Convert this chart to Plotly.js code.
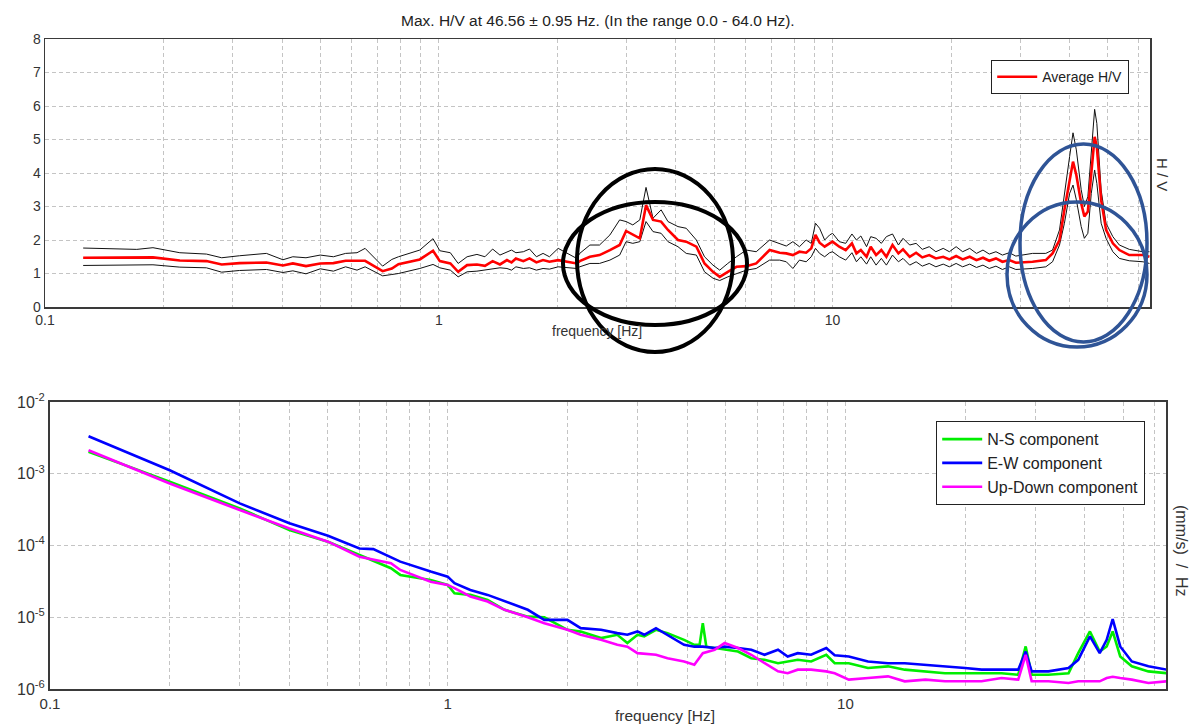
<!DOCTYPE html>
<html>
<head>
<meta charset="utf-8">
<script src="https://cdn.plot.ly/plotly-3.0.1.min.js"></script>
<style>html,body{margin:0;padding:0;background:#fff;}#chart{width:1200px;height:726px;}</style>
</head>
<body>
<div id="chart"></div>
<script>
// ---------- H/V data (top panel) ----------
const hvFreq = [0.125,0.171,0.188,0.22,0.257,0.281,0.312,0.365,0.402,0.426,0.46,0.5,0.54,0.58,0.62,0.65,0.72,0.76,0.79,0.895,0.967,1.006,1.07,1.12,1.18,1.25,1.31,1.37,1.43,1.49,1.53,1.57,1.64,1.70,1.77,1.84,1.91,2.01,2.24,2.28,2.42,2.56,2.72,2.88,2.99,3.11,3.24,3.36,3.50,3.67,3.82,4.05,4.25,4.51,4.73,4.97,5.17,5.42,5.70,6.04,6.40,6.92,7.34,7.63,7.93,8.24,8.57,8.83,9.05,9.27,9.55,9.83,10.0,10.4,10.8,11.2,11.5,11.8,12.2,12.5,12.9,13.3,13.7,14.2,14.7,15.1,15.7,16.3,16.9,17.6,18.3,19.1,19.8,20.6,21.4,22.3,23.2,24.1,25.0,26.0,27.0,28.1,29.2,32.2,34.8,36.2,37.7,38.8,40.0,40.8,41.6,42.8,43.6,44.5,45.4,46.3,46.9,48.1,49.5,51.5,53.5,56.7,61.4,63.8];
const hvAvg = [1.47,1.47,1.48,1.39,1.37,1.27,1.31,1.33,1.24,1.30,1.22,1.30,1.31,1.38,1.39,1.38,1.07,1.15,1.28,1.42,1.68,1.37,1.30,1.05,1.25,1.27,1.23,1.37,1.27,1.40,1.33,1.45,1.37,1.45,1.33,1.40,1.35,1.40,1.30,1.37,1.50,1.55,1.70,1.85,2.27,2.15,2.05,3.04,2.60,2.55,2.30,2.00,1.95,1.80,1.30,1.05,0.90,1.05,1.20,1.22,1.30,1.70,1.62,1.60,1.55,1.65,1.62,1.75,2.15,1.92,1.80,1.90,1.95,1.80,1.70,1.90,1.60,1.70,1.50,1.80,1.55,1.70,1.50,1.85,1.60,1.72,1.50,1.62,1.48,1.55,1.45,1.50,1.42,1.52,1.42,1.50,1.40,1.47,1.38,1.45,1.35,1.40,1.32,1.35,1.40,1.60,2.00,2.90,3.79,4.34,3.94,3.10,2.70,2.85,3.99,5.08,4.78,3.19,2.30,1.90,1.70,1.55,1.55,1.50];
const hvUpper = [1.76,1.72,1.77,1.62,1.58,1.47,1.53,1.60,1.41,1.50,1.47,1.55,1.50,1.60,1.62,1.75,1.22,1.42,1.50,1.70,2.04,1.68,1.62,1.30,1.50,1.57,1.50,1.73,1.55,1.65,1.70,1.62,1.65,1.73,1.50,1.60,1.50,1.75,1.45,1.60,1.85,1.85,2.15,2.60,2.55,2.45,2.60,3.57,2.65,2.90,2.55,2.40,2.35,2.00,1.50,1.25,1.10,1.30,1.50,1.70,1.65,2.00,1.90,1.82,1.95,1.80,2.00,1.90,2.50,2.35,2.00,2.15,2.20,1.95,1.90,2.18,2.00,2.12,1.80,2.10,2.05,1.90,2.10,2.18,1.85,2.05,1.85,1.90,1.72,1.80,1.65,1.75,1.65,1.80,1.65,1.75,1.60,1.70,1.58,1.65,1.55,1.62,1.52,1.60,1.60,1.70,2.30,3.29,4.49,5.20,4.69,3.50,3.00,3.29,4.49,5.90,5.48,3.49,2.50,2.10,1.85,1.72,1.65,1.65];
const hvLower = [1.24,1.25,1.26,1.19,1.17,1.04,1.09,1.12,1.03,1.08,0.99,1.14,1.07,1.20,1.10,1.20,0.93,0.97,1.00,1.15,1.27,1.17,1.10,0.90,1.05,1.07,1.10,1.13,1.17,1.15,1.10,1.20,1.15,1.17,1.10,1.15,1.13,1.20,1.15,1.20,1.30,1.30,1.40,1.55,1.95,1.90,1.95,2.55,2.25,2.20,1.95,1.80,1.60,1.55,1.05,0.86,0.79,0.90,1.00,1.10,1.15,1.40,1.40,1.35,1.15,1.40,1.35,1.50,1.75,1.60,1.50,1.62,1.65,1.50,1.40,1.62,1.35,1.50,1.28,1.50,1.25,1.45,1.25,1.55,1.35,1.45,1.25,1.35,1.22,1.30,1.20,1.28,1.20,1.30,1.20,1.28,1.18,1.25,1.15,1.22,1.12,1.20,1.12,1.15,1.20,1.35,1.85,2.50,3.39,3.64,3.20,2.40,2.05,2.20,3.39,4.09,3.69,2.50,2.05,1.65,1.45,1.38,1.35,1.30];

// ---------- spectra (bottom panel) ----------
const ewFreq = [0.125,0.2,0.3,0.4,0.5,0.6,0.65,0.76,0.906,1.0,1.04,1.14,1.26,1.39,1.59,1.75,2.0,2.16,2.43,2.67,2.83,3.0,3.12,3.34,3.57,3.93,4.17,4.38,4.69,4.97,5.37,5.80,6.26,6.77,7.16,7.59,8.2,8.95,9.4,10.2,11.4,12.8,14.1,15.9,17.8,20.0,22.0,24.7,27.2,28.4,29.4,32.4,36.4,38.5,41.2,43.6,45.4,47.0,49.1,52.5,57.8,64.3];
const ewVal = [3.33e-3,1.12e-3,3.86e-4,2.04e-4,1.37e-4,9.1e-5,8.9e-5,5.96e-5,4.33e-5,3.68e-5,2.98e-5,2.40e-5,2.05e-5,1.66e-5,1.27e-5,9.2e-6,9.2e-6,7.05e-6,6.68e-6,6.01e-6,5.7e-6,6.34e-6,5.7e-6,7.05e-6,5.7e-6,4.13e-6,3.89e-6,3.89e-6,3.72e-6,3.89e-6,3.72e-6,3.52e-6,3.0e-6,3.52e-6,2.84e-6,3.16e-6,3.0e-6,3.72e-6,2.95e-6,2.84e-6,2.42e-6,2.29e-6,2.29e-6,2.18e-6,2.07e-6,1.96e-6,1.86e-6,1.86e-6,1.86e-6,3.33e-6,1.76e-6,1.76e-6,1.96e-6,2.55e-6,5.4e-6,3.16e-6,4.84e-6,9.4e-6,3.92e-6,2.42e-6,2.07e-6,1.86e-6];
const nsFreq = [0.125,0.2,0.3,0.4,0.5,0.6,0.72,0.76,0.906,1.0,1.04,1.14,1.26,1.39,1.59,1.75,2.0,2.16,2.43,2.67,2.83,3.0,3.12,3.34,3.57,3.93,4.17,4.30,4.38,4.47,4.69,4.97,5.37,5.80,6.26,6.77,7.16,7.59,8.2,8.95,9.4,10.2,11.4,12.8,14.1,15.9,17.8,20.0,22.0,24.7,27.2,28.4,29.4,32.4,36.4,38.5,41.2,43.6,45.4,47.0,49.1,52.5,57.8,64.3];
const nsVal = [2.02e-3,7.76e-4,3.29e-4,1.64e-4,1.13e-4,7.36e-5,4.82e-5,3.89e-5,3.31e-5,2.82e-5,2.16e-5,2.05e-5,1.74e-5,1.27e-5,1.02e-5,1.0e-5,6.68e-6,6.31e-6,5.13e-6,5.69e-6,4.37e-6,5.69e-6,5.4e-6,6.68e-6,6.01e-6,4.84e-6,4.13e-6,4.13e-6,8.26e-6,3.89e-6,3.72e-6,3.52e-6,3.33e-6,2.69e-6,2.55e-6,2.29e-6,2.42e-6,2.55e-6,2.42e-6,3.0e-6,2.29e-6,2.29e-6,1.96e-6,2.07e-6,1.86e-6,1.76e-6,1.66e-6,1.66e-6,1.66e-6,1.66e-6,1.58e-6,3.92e-6,1.58e-6,1.58e-6,1.66e-6,3.16e-6,6.34e-6,3.33e-6,3.92e-6,6.34e-6,2.84e-6,2.07e-6,1.76e-6,1.66e-6];
const udFreq = [0.125,0.2,0.3,0.4,0.5,0.6,0.72,0.76,0.906,1.0,1.04,1.14,1.26,1.39,1.59,1.75,2.0,2.16,2.43,2.67,2.83,3.0,3.34,3.57,3.93,4.17,4.38,4.69,4.97,5.37,5.80,6.26,6.77,7.16,7.59,8.2,8.95,9.4,10.2,11.4,12.8,14.1,15.9,17.8,20.0,22.0,24.7,27.2,28.4,29.4,32.4,36.4,38.5,41.2,43.6,45.4,47.0,49.1,52.5,57.8,64.3];
const udVal = [2.13e-3,7.33e-4,3.12e-4,1.73e-4,1.13e-4,6.98e-5,5.65e-5,4.56e-5,3.13e-5,2.82e-5,2.54e-5,1.95e-5,1.66e-5,1.27e-5,1.0e-5,8.26e-6,6.68e-6,5.69e-6,4.84e-6,4.13e-6,3.89e-6,3.16e-6,3.0e-6,2.69e-6,2.42e-6,2.18e-6,3.16e-6,3.52e-6,4.37e-6,3.72e-6,3.0e-6,2.29e-6,1.76e-6,1.66e-6,1.86e-6,1.86e-6,1.76e-6,1.66e-6,1.35e-6,1.42e-6,1.5e-6,1.28e-6,1.35e-6,1.28e-6,1.28e-6,1.28e-6,1.42e-6,1.35e-6,3.0e-6,1.28e-6,1.28e-6,1.21e-6,1.28e-6,1.28e-6,1.28e-6,1.42e-6,1.48e-6,1.42e-6,1.35e-6,1.21e-6,1.28e-6];

// ---------- tick labels ----------
const freqGridVals = [0.1,0.2,0.3,0.4,0.5,0.6,0.7,0.8,0.9,1,2,3,4,5,6,7,8,9,10,20,30,40,50,60];
const freqGridText = ['0.1','','','','','','','','','1','','','','','','','','','10','','','','',''];
const hvTickVals = [0,1,2,3,4,5,6,7,8];
const specTickVals = [1e-6,1e-5,1e-4,1e-3,1e-2];
const specTickText = ['10<sup>-6</sup>','10<sup>-5</sup>','10<sup>-4</sup>','10<sup>-3</sup>','10<sup>-2</sup>'];

const titleText = 'Max. H/V at 46.56 ± 0.95 Hz. (In the range 0.0 - 64.0 Hz).';

const W = 1200, H = 726;
const px = x => x / W;
const py = y => 1 - y / H;

const FONT = 'Liberation Sans, Arial, sans-serif';
const gridCol = '#c4c4c4';
const axisCol = '#3a3a3a';

const traces = [
  {x: hvFreq, y: hvUpper, xaxis: 'x', yaxis: 'y', mode: 'lines', line: {color: '#111', width: 1}, showlegend: false, hoverinfo: 'skip'},
  {x: hvFreq, y: hvLower, xaxis: 'x', yaxis: 'y', mode: 'lines', line: {color: '#111', width: 1}, showlegend: false, hoverinfo: 'skip'},
  {x: hvFreq, y: hvAvg, xaxis: 'x', yaxis: 'y', mode: 'lines', name: 'Average H/V', line: {color: '#ff0000', width: 2.6}, legend: 'legend'},
  {x: nsFreq, y: nsVal, xaxis: 'x2', yaxis: 'y2', mode: 'lines', name: 'N-S component', line: {color: '#00ee00', width: 2.6}, legend: 'legend2'},
  {x: ewFreq, y: ewVal, xaxis: 'x2', yaxis: 'y2', mode: 'lines', name: 'E-W component', line: {color: '#0000ff', width: 2.6}, legend: 'legend2'},
  {x: udFreq, y: udVal, xaxis: 'x2', yaxis: 'y2', mode: 'lines', name: 'Up-Down component', line: {color: '#ff00ff', width: 2.6}, legend: 'legend2'}
];

const xCommon = {
  type: 'log', range: [-1, Math.log10(64)], tickmode: 'array',
  tickvals: freqGridVals, ticktext: freqGridText,
  showgrid: true, gridcolor: gridCol, griddash: '4px,3px', gridwidth: 1,
  showline: true, mirror: true, linecolor: axisCol, ticks: '', zeroline: false
};

const layout = {
  width: W, height: H,
  margin: {l: 0, r: 0, t: 0, b: 0},
  paper_bgcolor: '#fff', plot_bgcolor: '#fff',
  font: {family: FONT, color: '#222'},
  showlegend: true,
  xaxis: Object.assign({}, xCommon, {domain: [px(45), px(1150)], anchor: 'y', linewidth: 1.5, tickfont: {size: 14, color: '#333'}}),
  yaxis: {domain: [py(307), py(39)], anchor: 'x', range: [0, 8], tickmode: 'array', tickvals: hvTickVals,
    showgrid: true, gridcolor: gridCol, griddash: '4px,3px', showline: true, mirror: true, linecolor: axisCol, linewidth: 1.5,
    ticks: '', zeroline: false, tickfont: {size: 14, color: '#333'}},
  xaxis2: Object.assign({}, xCommon, {domain: [px(50), px(1166)], anchor: 'y2', linewidth: 2, tickfont: {size: 15, color: '#333'}}),
  yaxis2: {domain: [py(689), py(402)], anchor: 'x2', type: 'log', range: [-6, -2], tickmode: 'array',
    tickvals: specTickVals, ticktext: specTickText,
    showgrid: true, gridcolor: gridCol, griddash: '4px,3px', showline: true, mirror: true, linecolor: axisCol, linewidth: 2,
    ticks: '', zeroline: false, tickfont: {size: 16, color: '#333'}},
  legend: {x: px(1129), xanchor: 'right', y: py(60), yanchor: 'top', bgcolor: '#fff', bordercolor: '#222', borderwidth: 1.2,
    font: {size: 14, color: '#222'}, itemwidth: 40, tracegroupgap: 0},
  legend2: {x: px(1145), xanchor: 'right', y: py(421), yanchor: 'top', bgcolor: '#fff', bordercolor: '#222', borderwidth: 1.2,
    font: {size: 16, color: '#222'}, itemwidth: 40, tracegroupgap: 0},
  annotations: [
    {text: titleText, xref: 'paper', yref: 'paper', x: px(598), y: py(20), showarrow: false, xanchor: 'center', yanchor: 'middle', font: {size: 15.5, color: '#222'}},
    {text: 'frequency [Hz]', xref: 'paper', yref: 'paper', x: px(597), y: py(331), showarrow: false, xanchor: 'center', yanchor: 'middle', font: {size: 14, color: '#333'}},
    {text: 'frequency [Hz]', xref: 'paper', yref: 'paper', x: px(665), y: py(715), showarrow: false, xanchor: 'center', yanchor: 'middle', font: {size: 15.5, color: '#333'}},
    {text: 'H / V', xref: 'paper', yref: 'paper', x: px(1162), y: py(174), showarrow: false, textangle: 90, xanchor: 'center', yanchor: 'middle', font: {size: 15, color: '#333'}},
    {text: '(mm/s)\u00a0\u00a0/\u00a0\u00a0Hz', xref: 'paper', yref: 'paper', x: px(1182), y: py(551), showarrow: false, textangle: 90, xanchor: 'center', yanchor: 'middle', font: {size: 16, color: '#333'}}
  ],
  shapes: [
    {type: 'circle', xref: 'paper', yref: 'paper', x0: px(577), x1: px(733), y0: py(169), y1: py(352), line: {color: '#000', width: 4}, layer: 'above'},
    {type: 'circle', xref: 'paper', yref: 'paper', x0: px(563), x1: px(747), y0: py(202), y1: py(325), line: {color: '#000', width: 4}, layer: 'above'},
    {type: 'circle', xref: 'paper', yref: 'paper', x0: px(1020), x1: px(1147), y0: py(144), y1: py(342), line: {color: '#2f5496', width: 3.5}, layer: 'above'},
    {type: 'circle', xref: 'paper', yref: 'paper', x0: px(1007), x1: px(1147), y0: py(202), y1: py(347), line: {color: '#2f5496', width: 3.5}, layer: 'above'}
  ]
};

Plotly.newPlot('chart', traces, layout, {displayModeBar: false, staticPlot: true});
</script>
</body>
</html>
